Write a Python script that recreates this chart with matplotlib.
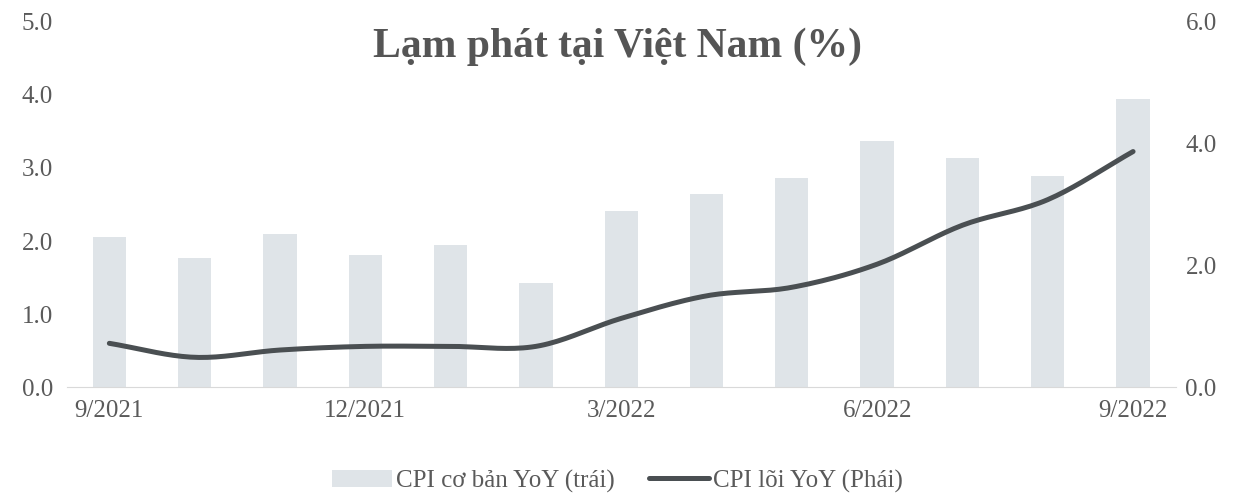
"""
Lạm phát tại Việt Nam - bar (left axis) + smoothed line (right axis)
"""

import matplotlib
matplotlib.use('Agg')
import matplotlib.pyplot as plt
import numpy as np

matplotlib.rcParams['font.family'] = ['Liberation Serif', 'DejaVu Serif']

# Data
months = ['9/2021', '10/2021', '11/2021', '12/2021', '1/2022', '2/2022', '3/2022',
          '4/2022', '5/2022', '6/2022', '7/2022', '8/2022', '9/2022']
cpi_headline = [2.06, 1.77, 2.10, 1.81, 1.94, 1.42, 2.41, 2.64, 2.86, 3.37, 3.14, 2.89, 3.94]
cpi_core = [0.72, 0.49, 0.61, 0.67, 0.67, 0.67, 1.13, 1.50, 1.64, 2.02, 2.66, 3.08, 3.87]
shown_ticks = ['9/2021', '12/2021', '3/2022', '6/2022', '9/2022']

TEXT = '#5a5a5a'
BAR = '#dfe4e8'
LINE = '#4a4f52'


def catmull_rom(x, y, n=20):
    """Smooth curve through the points, like Excel's smoothed line"""
    x = np.asarray(x, float)
    y = np.asarray(y, float)
    px = np.concatenate([[2 * x[0] - x[1]], x, [2 * x[-1] - x[-2]]])
    py = np.concatenate([[2 * y[0] - y[1]], y, [2 * y[-1] - y[-2]]])
    xs, ys = [], []
    t = np.linspace(0, 1, n, endpoint=False)
    for i in range(1, len(px) - 2):
        for arr, out in ((px, xs), (py, ys)):
            p0, p1, p2, p3 = arr[i - 1], arr[i], arr[i + 1], arr[i + 2]
            out.extend(0.5 * (2 * p1 + (-p0 + p2) * t
                              + (2 * p0 - 5 * p1 + 4 * p2 - p3) * t ** 2
                              + (-p0 + 3 * p1 - 3 * p2 + p3) * t ** 3))
    xs.append(x[-1])
    ys.append(y[-1])
    return np.array(xs), np.array(ys)


fig = plt.figure(figsize=(12.35, 4.97), dpi=100)
ax = fig.add_axes([0.054, 0.221, 0.898, 0.735])
ax2 = ax.twinx()

xpos = np.arange(len(months))
bars = ax.bar(xpos, cpi_headline, width=0.39, color=BAR, zorder=1,
              label='CPI cơ bản YoY (trái)')
sx, sy = catmull_rom(xpos, cpi_core)
line, = ax2.plot(sx, sy, color=LINE, linewidth=3.6, solid_capstyle='round',
                 label='CPI lõi YoY (Phái)')

ax.set_xlim(-0.5, len(months) - 0.5)
ax.set_ylim(0, 5)
ax2.set_ylim(0, 6)
ax.set_yticks(np.arange(0, 5.01, 1.0))
ax2.set_yticks(np.arange(0, 6.01, 2.0))
ax.set_yticklabels([f'{v:.1f}' for v in np.arange(0, 5.01, 1.0)])
ax2.set_yticklabels([f'{v:.1f}' for v in np.arange(0, 6.01, 2.0)])

tick_idx = [months.index(m) for m in shown_ticks]
ax.set_xticks(tick_idx)
ax.set_xticklabels(shown_ticks)

for a in (ax, ax2):
    for s in a.spines.values():
        s.set_visible(False)
    a.tick_params(length=0, labelsize=18, colors=TEXT)
ax.spines['bottom'].set_visible(True)
ax.spines['bottom'].set_color('#d9d9d9')
ax.tick_params(axis='y', pad=10)
ax2.tick_params(axis='y', pad=7)
ax.tick_params(axis='x', pad=9)

fig.text(0.5, 0.905, 'Lạm phát tại Việt Nam (%)', ha='center', va='center',
         fontsize=30, fontweight='bold', color='#555555')

fig.legend([bars, line], ['CPI cơ bản YoY (trái)', 'CPI lõi YoY (Phái)'],
           loc='center', bbox_to_anchor=(0.5, 0.032), ncol=2, frameon=False,
           fontsize=18, labelcolor=TEXT, handlelength=2.4, handletextpad=0.15,
           columnspacing=1.4)

plt.savefig('out.png', dpi=100, facecolor='white')
plt.close()
